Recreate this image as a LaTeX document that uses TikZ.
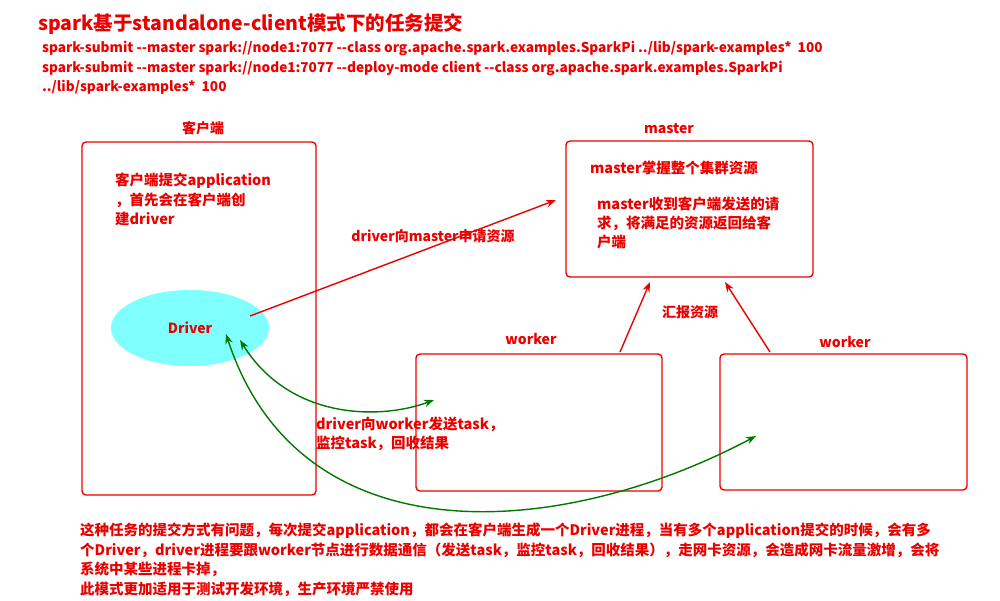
\documentclass[tikz,border=0pt]{standalone}
\usepackage{fontspec}
\setmainfont{Noto Sans CJK SC}
\usetikzlibrary{arrows.meta,shapes.geometric}
\definecolor{rd}{RGB}{235,0,0}
\definecolor{gr}{RGB}{0,120,0}
\definecolor{cy}{RGB}{128,255,255}
\begin{document}
\begin{tikzpicture}[x=1pt,y=-1pt,
  box/.style={draw=rd,line width=1.4pt,rounded corners=4pt},
  txt/.style={text=rd,font=\fontsize{14.5}{16}\selectfont\bfseries,anchor=west,inner sep=0},
  lbl/.style={text=rd,font=\fontsize{14}{16}\selectfont\bfseries,inner sep=0},
  rarr/.style={draw=rd,line width=1.4pt,-{Stealth[length=10pt]}},
  garr/.style={draw=gr,line width=1.4pt,{Stealth[length=10pt]}-{Stealth[length=10pt]}}]
\useasboundingbox (0,0) rectangle (1000,600);
\node[txt,font=\fontsize{19.5}{21}\selectfont\bfseries] (title) at (38,24) {spark基于standalone-client模式下的任务提交};
\node[txt,font=\fontsize{13.6}{15}\selectfont\bfseries] (c1) at (42,48) {spark-submit {-}{-}master spark://node1:7077 {-}{-}class org.apache.spark.examples.SparkPi ../lib/spark-examples*\ \ 100};
\node[txt,font=\fontsize{13.6}{15}\selectfont\bfseries] (c2) at (42,68) {spark-submit {-}{-}master spark://node1:7077 {-}{-}deploy-mode client {-}{-}class org.apache.spark.examples.SparkPi};
\node[txt,font=\fontsize{13.6}{15}\selectfont\bfseries] (c3) at (42,87) {../lib/spark-examples*\ \ 100};
% client
\draw[box] (82,142) rectangle (316,495);
\node[lbl] (lc) at (203,128) {客户端};
\node[txt] (t1) at (115,181) {客户端提交application};
\node[txt] (t2) at (115,200) {，首先会在客户端创};
\node[txt] (t3) at (115,219) {建driver};
\node[ellipse,fill=cy,draw=none,minimum width=158pt,minimum height=76pt,text=rd,font=\fontsize{14}{16}\selectfont\bfseries] (drv) at (190,328) {Driver};
% master
\draw[box] (566,141) rectangle (813,277);
\node[lbl] (lm) at (669,129) {master};
\node[txt] (m1) at (590,168) {master掌握整个集群资源};
\node[txt] (m2) at (597,204) {master收到客户端发送的请};
\node[txt] (m3) at (597,223) {求，将满足的资源返回给客};
\node[txt] (m4) at (597,242) {户端};
% workers
\draw[box] (416,354) rectangle (662,491);
\node[lbl] (lw1) at (531,339) {worker};
\draw[box] (720,354) rectangle (967,490);
\node[lbl] (lw2) at (845,342) {worker};
% red arrows
\coordinate (ds) at (250,316); \coordinate (me) at (556,200);
\draw[rarr] (ds) -- (me);
\node[lbl] (la) at (433,236) {driver向master申请资源};
\coordinate (w1t) at (620,352); \coordinate (m1b) at (650,282);
\coordinate (w2t) at (770,352); \coordinate (m2b) at (725,282);
\draw[rarr] (w1t) -- (m1b);
\draw[rarr] (w2t) -- (m2b);
\node[lbl] (lh) at (690,312) {汇报资源};
% green arrows
\coordinate (g1a) at (240,340); \coordinate (g1b) at (434,400);
\draw[garr] (g1a) .. controls (290,420) and (380,420) .. (g1b);
\coordinate (g2a) at (226,334); \coordinate (g2b) at (756,436);
\draw[garr] (g2a) .. controls (300,560) and (560,540) .. (g2b);
\node[txt] (lg1) at (316,424) {driver向worker发送task，};
\node[txt] (lg2) at (316,443) {监控task，回收结果};
% bottom
\node[txt] (b1) at (80,531) {这种任务的提交方式有问题，每次提交application，都会在客户端生成一个Driver进程，当有多个application提交的时候，会有多};
\node[txt] (b2) at (80,550) {个Driver，driver进程要跟worker节点进行数据通信（发送task，监控task，回收结果），走网卡资源，会造成网卡流量激增，会将};
\node[txt] (b3) at (80,569) {系统中某些进程卡掉，};
\node[txt] (b4) at (80,589) {此模式更加适用于测试开发环境，生产环境严禁使用};
\end{tikzpicture}
\end{document}
